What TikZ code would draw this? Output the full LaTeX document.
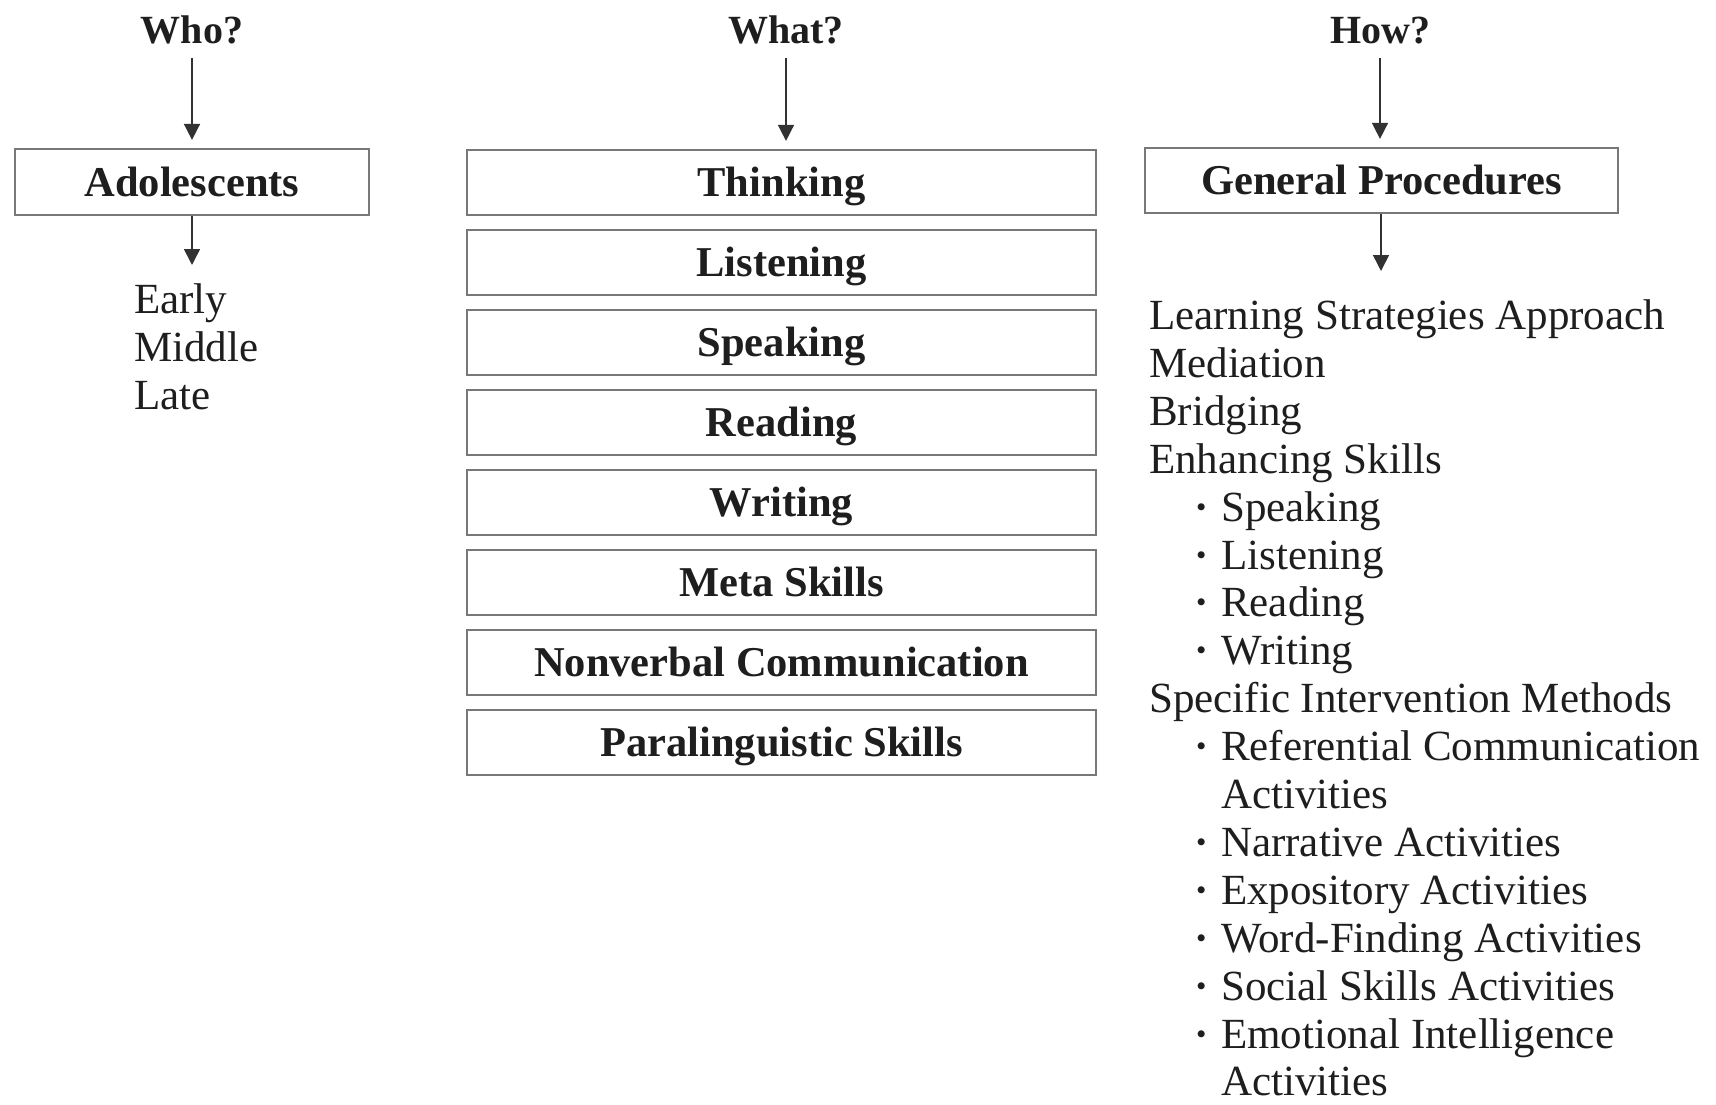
\documentclass[tikz,border=0pt]{standalone}
\usepackage{fontspec}
\setmainfont{Liberation Serif}
\usetikzlibrary{arrows.meta,calc}
\definecolor{boxgray}{RGB}{120,120,120}
\definecolor{linegray}{RGB}{50,50,50}
\definecolor{ink}{RGB}{30,30,30}
\begin{document}
\begin{tikzpicture}[x=1pt,y=-1pt,
  hdr/.style={font=\fontsize{40}{48}\selectfont\bfseries, text=ink, anchor=base, inner sep=0pt},
  boxed/.style={draw=boxgray, line width=2.2pt, minimum height=65pt, inner sep=0pt,
    text height=33pt, text depth=5pt, text=ink, font=\fontsize{42.5}{48}\selectfont\bfseries},
  whatbox/.style={boxed, minimum width=629pt},
  item/.style={font=\fontsize{43}{48}\selectfont, text=ink, anchor=base west, inner sep=0pt, text depth=0pt},
  dotmark/.style={font=\fontsize{43}{48}\selectfont\bfseries, text=ink, anchor=base, inner sep=0pt},
  link/.style={draw=linegray, line width=1.6pt, -{Triangle[width=16pt,length=16pt]}}
]
\useasboundingbox (0,0) rectangle (1716,1105);

% column headers
\node[hdr] (who)  at (192,44)  {Who?};
\node[hdr] (what) at (786,44)  {What?};
\node[hdr] (how)  at (1380,44) {How?};

% Who? column
\node[boxed, minimum width=354pt, minimum height=66pt] (adol) at (192,182) {Adolescents};
\coordinate (adolend) at (192,265);
\node[item] (early)  at (134,313) {Early};
\node[item] (middle) at (134,361) {Middle};
\node[item] (late)   at (134,409) {Late};

% What? column
\node[whatbox] (think)  at (781.5,182.5) {Thinking};
\node[whatbox] (listen) at (781.5,262.5) {Listening};
\node[whatbox] (speak)  at (781.5,342.5) {Speaking};
\node[whatbox] (read)   at (781.5,422.5) {Reading};
\node[whatbox] (write)  at (781.5,502.5) {Writing};
\node[whatbox] (meta)   at (781.5,582.5) {Meta Skills};
\node[whatbox] (nonv)   at (781.5,662.5) {Nonverbal Communication};
\node[whatbox] (para)   at (781.5,742.5) {Paralinguistic Skills};

% How? column
\node[boxed, minimum width=473pt] (gen) at (1381.5,180.5) {General Procedures};
\coordinate (genend) at (1381,271);

\node[item] (l1) at (1149,329.5) {Learning Strategies Approach};
\node[item] (l2) at (1149,377.4) {Mediation};
\node[item] (l3) at (1149,425.3) {Bridging};
\node[item] (l4) at (1149,473.2) {Enhancing Skills};
\node[dotmark] (b5) at (1202,521.1) {·};
\node[item] (l5) at (1221,521.1) {Speaking};
\node[dotmark] (b6) at (1202,569.0) {·};
\node[item] (l6) at (1221,569.0) {Listening};
\node[dotmark] (b7) at (1202,616.9) {·};
\node[item] (l7) at (1221,616.9) {Reading};
\node[dotmark] (b8) at (1202,664.8) {·};
\node[item] (l8) at (1221,664.8) {Writing};
\node[item] (l9) at (1149,712.7) {Specific Intervention Methods};
\node[dotmark] (b10) at (1202,760.6) {·};
\node[item] (l10) at (1221,760.6) {Referential Communication};
\node[item] (l11) at (1221,808.5) {Activities};
\node[dotmark] (b12) at (1202,856.4) {·};
\node[item] (l12) at (1221,856.4) {Narrative Activities};
\node[dotmark] (b13) at (1202,904.3) {·};
\node[item] (l13) at (1221,904.3) {Expository Activities};
\node[dotmark] (b14) at (1202,952.2) {·};
\node[item] (l14) at (1221,952.2) {Word-Finding Activities};
\node[dotmark] (b15) at (1202,1000.1) {·};
\node[item] (l15) at (1221,1000.1) {Social Skills Activities};
\node[dotmark] (b16) at (1202,1048.0) {·};
\node[item] (l16) at (1221,1048.0) {Emotional Intelligence};
\node[item] (l17) at (1221,1095.9) {Activities};

% connectors
\draw[link] ($(who.south)+(0,13)$) -- ($(who.south |- adol.north)+(0,-8)$);
\draw[link] (adol.south) -- (adolend);
\draw[link] ($(what.south)+(0,13)$) -- ($(what.south |- think.north)+(0,-8)$);
\draw[link] ($(how.south)+(0,13)$) -- ($(how.south |- gen.north)+(0,-8)$);
\draw[link] (gen.south -| genend) -- (genend);
\end{tikzpicture}
\end{document}
